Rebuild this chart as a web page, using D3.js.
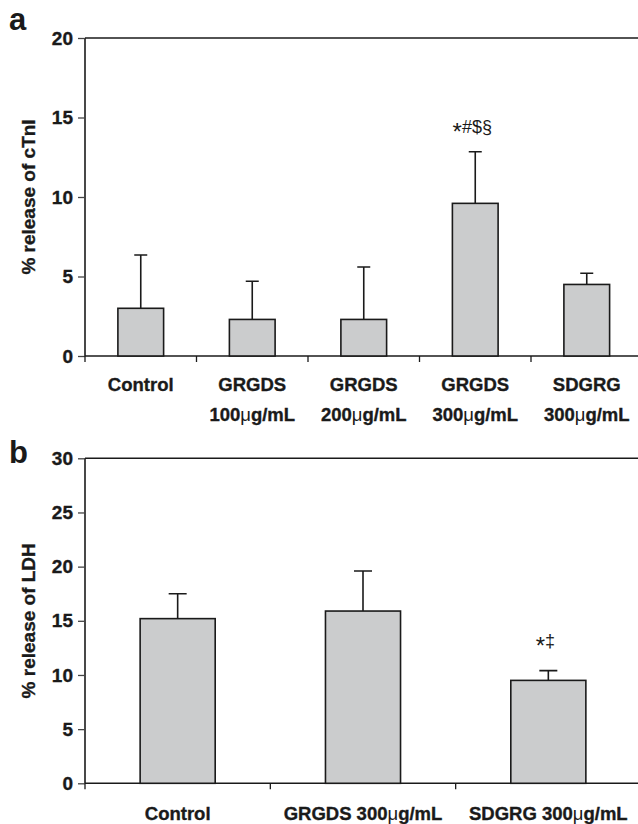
<!DOCTYPE html>
<html>
<head>
<meta charset="utf-8">
<script src="https://cdn.jsdelivr.net/npm/d3@7"></script>
<style>
  body { margin: 0; background: #fff; }
  svg { display: block; font-family: "Liberation Sans", Arial, sans-serif; }
  .heavy { stroke: #1a1a1a; stroke-width: 0.35px; }
</style>
</head>
<body>
<svg width="638" height="824"></svg>
<script>
// panel a: cTnI release
const catsA = ['Control', 'GRGDS 100', 'GRGDS 200', 'GRGDS 300', 'SDGRG 300'];
const labelsA = [['Control'], ['GRGDS', '100μg/mL'], ['GRGDS', '200μg/mL'], ['GRGDS', '300μg/mL'], ['SDGRG', '300μg/mL']];
const meanA = [3.0, 2.3, 2.3, 9.6, 4.5];
const sdA = [3.35, 2.4, 3.3, 3.25, 0.7];
const marksA = ['', '', '', '*#$§', ''];
const ticksA = [0, 5, 10, 15, 20];

// panel b: LDH release
const catsB = ['Control', 'GRGDS 300', 'SDGRG 300'];
const labelsB = [['Control'], ['GRGDS 300μg/mL'], ['SDGRG 300μg/mL']];
const meanB = [15.2, 15.9, 9.5];
const sdB = [2.3, 3.7, 0.9];
const marksB = ['', '', '*‡'];
const ticksB = [0, 5, 10, 15, 20, 25, 30];

const svg = d3.select('svg');
const ink = '#1a1a1a';

// write text, with μ set in regular weight like the original
function richText(sel, str) {
    const parts = str.split('μ');
    parts.forEach(function (p, i) {
        if (i > 0) sel.append('tspan').attr('font-weight', 'normal').attr('stroke-width', 0).text('μ');
        sel.append('tspan').text(p);
    });
}

function drawPanel(opt) {
    const x = d3.scaleBand().domain(opt.cats).range([85, opt.xEnd]).padding(0);
    const y = d3.scaleLinear().domain([0, opt.yMax]).range([opt.y0, opt.yTop]);
    const g = svg.append('g');
    const barW = x.bandwidth() * opt.barFrac;
    const data = opt.cats.map((c, i) => ({ c: c, m: opt.mean[i], sd: opt.sd[i], mark: opt.marks[i], lab: opt.labels[i] }));

    // frame: top line, left axis, bottom axis
    g.append('line').attr('x1', 85).attr('x2', 638).attr('y1', y(opt.yMax)).attr('y2', y(opt.yMax))
        .attr('stroke', ink).attr('stroke-width', 1.6);
    g.append('line').attr('x1', 85).attr('x2', 638).attr('y1', y(0)).attr('y2', y(0))
        .attr('stroke', ink).attr('stroke-width', 1.6);
    g.append('line').attr('x1', 85).attr('x2', 85).attr('y1', y(opt.yMax)).attr('y2', y(0))
        .attr('stroke', ink).attr('stroke-width', 1.6);

    // y axis ticks + labels
    const yAxis = d3.axisLeft(y).tickValues(opt.ticks).tickSize(7).tickPadding(5);
    const ya = g.append('g').attr('transform', 'translate(85,0)').call(yAxis);
    ya.select('.domain').remove();
    ya.selectAll('.tick line').attr('stroke', '#444').attr('stroke-width', 1.3);
    ya.selectAll('.tick text').attr('font-size', 19).attr('font-weight', 'bold')
        .attr('font-family', '"Liberation Sans", Arial, sans-serif').attr('fill', ink)
        .attr('class', 'heavy');

    // x ticks at category boundaries
    g.selectAll('.xtick').data(opt.cats).enter().append('line')
        .attr('x1', d => x(d)).attr('x2', d => x(d))
        .attr('y1', y(0)).attr('y2', y(0) + 6)
        .attr('stroke', ink).attr('stroke-width', 1.3);

    // error bars (upper half only)
    g.selectAll('.err').data(data).enter().append('path')
        .attr('d', d => {
            const cx = x(d.c) + x.bandwidth() / 2;
            return `M${cx},${y(d.m)}V${y(d.m + d.sd)}M${cx - opt.cap},${y(d.m + d.sd)}H${cx + opt.cap}`;
        })
        .attr('fill', 'none').attr('stroke', ink).attr('stroke-width', 1.6);

    // bars
    g.selectAll('.bar').data(data).enter().append('rect')
        .attr('x', d => x(d.c) + (x.bandwidth() - barW) / 2)
        .attr('width', barW)
        .attr('y', d => y(d.m))
        .attr('height', d => y(0) - y(d.m))
        .attr('fill', '#cbcccd').attr('stroke', ink).attr('stroke-width', 1.6);

    // significance marks (star sits at mid height, like the original)
    g.selectAll('.mark').data(data.filter(d => d.mark)).enter().append('text')
        .attr('x', d => x(d.c) + x.bandwidth() / 2 - 3)
        .attr('y', d => y(d.m + d.sd) - opt.markGap)
        .attr('text-anchor', 'middle').attr('font-size', 18).attr('fill', ink)
        .each(function (d) {
            const t = d3.select(this);
            t.append('tspan').attr('font-size', 24).attr('dy', 7).text(d.mark[0]);
            t.append('tspan').attr('dy', -7).text(d.mark.slice(1));
        });

    // category labels
    data.forEach(function (d) {
        d.lab.forEach(function (line, li) {
            const t = g.append('text')
                .attr('x', x(d.c) + x.bandwidth() / 2)
                .attr('y', opt.labelY + li * 29.5)
                .attr('text-anchor', 'middle').attr('font-size', 18.5).attr('font-weight', 'bold')
                .attr('fill', ink).attr('class', 'heavy');
            richText(t, line);
        });
    });

    // y title
    g.append('text')
        .attr('transform', `translate(35,${(y(0) + y(opt.yMax)) / 2}) rotate(-90)`)
        .attr('text-anchor', 'middle').attr('font-size', 19).attr('font-weight', 'bold').attr('fill', ink)
        .attr('class', 'heavy')
        .text(opt.title);

    // panel letter
    g.append('text').attr('x', 9).attr('y', opt.letterY)
        .attr('font-size', 31).attr('font-weight', 'bold').attr('fill', ink)
        .text(opt.letter);
}

drawPanel({
    cats: catsA, labels: labelsA, mean: meanA, sd: sdA, marks: marksA, ticks: ticksA,
    yMax: 20, y0: 356, yTop: 38, xEnd: 642.5, barFrac: 0.41, cap: 6.5, markGap: 19,
    labelY: 391, title: '% release of cTnI', letter: 'a', letterY: 30
});

drawPanel({
    cats: catsB, labels: labelsB, mean: meanB, sd: sdB, marks: marksB, ticks: ticksB,
    yMax: 30, y0: 783.3, yTop: 458.3, xEnd: 641, barFrac: 0.405, cap: 9, markGap: 24,
    labelY: 820, title: '% release of LDH', letter: 'b', letterY: 463
});
</script>
</body>
</html>
